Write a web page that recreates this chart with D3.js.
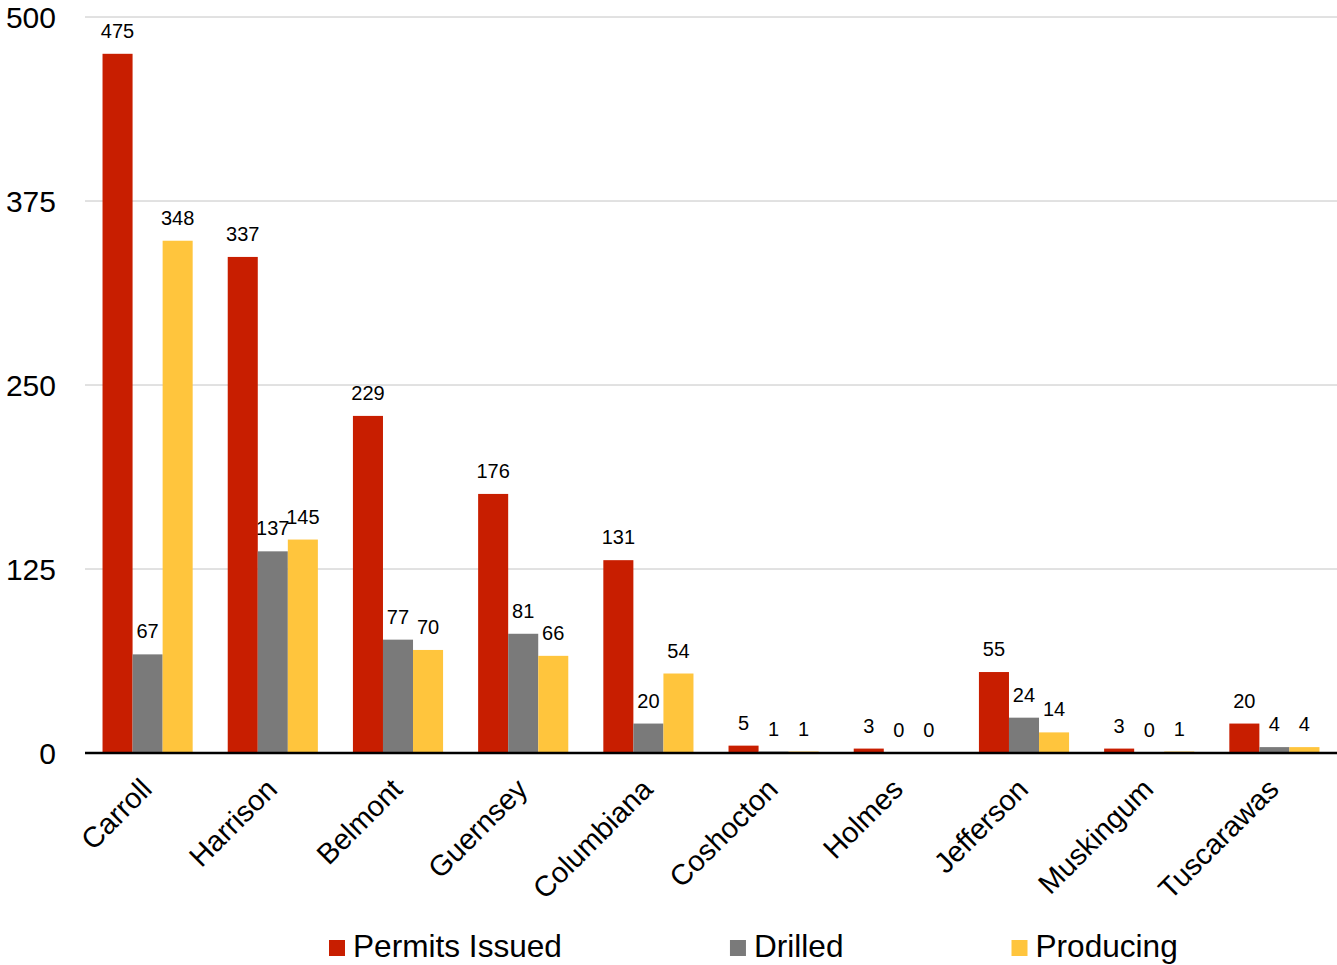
<!DOCTYPE html>
<html>
<head>
<meta charset="utf-8">
<script src="https://cdn.jsdelivr.net/npm/d3@7"></script>
<style>
  html, body { margin: 0; padding: 0; background: #fff; }
  svg { display: block; font-family: "Liberation Sans", Arial, sans-serif; }
</style>
</head>
<body>
<svg id="chart" width="1337" height="965"></svg>
<script>
const counties = ["Carroll", "Harrison", "Belmont", "Guernsey", "Columbiana", "Coshocton", "Holmes", "Jefferson", "Muskingum", "Tuscarawas"];
const seriesNames = ["Permits Issued", "Drilled", "Producing"];
const permitsIssued = [475, 337, 229, 176, 131, 5, 3, 55, 3, 20];
const drilled = [67, 137, 77, 81, 20, 1, 0, 24, 0, 4];
const producing = [348, 145, 70, 66, 54, 1, 0, 14, 1, 4];
const yTicks = [0, 125, 250, 375, 500];
const colors = ["#c81e00", "#7a7a7a", "#ffc53d"];

const seriesValues = [permitsIssued, drilled, producing];
const svg = d3.select("#chart");

const plotLeft = 85, plotRight = 1337, plotTop = 17, plotBottom = 753;

const y = d3.scaleLinear().domain([0, 500]).range([plotBottom, plotTop]);
const x0 = d3.scaleBand().domain(counties).range([plotLeft, plotRight]).paddingInner(0.28).paddingOuter(0.14);
const x1 = d3.scaleBand().domain(seriesNames).range([0, x0.bandwidth()]);

// gridlines
svg.append("g").selectAll("line").data(yTicks.filter(t => t > 0)).join("line")
  .attr("x1", plotLeft).attr("x2", plotRight)
  .attr("y1", d => y(d)).attr("y2", d => y(d))
  .attr("stroke", "#c4c4c4").attr("stroke-width", 1);

// y tick labels
svg.append("g").selectAll("text").data(yTicks).join("text")
  .attr("x", 56).attr("y", d => y(d))
  .attr("text-anchor", "end").attr("dominant-baseline", "central")
  .attr("font-size", 30).attr("fill", "#000")
  .text(d => d);

// bars
const groups = svg.append("g").selectAll("g").data(counties).join("g")
  .attr("transform", d => `translate(${x0(d)},0)`);

groups.selectAll("rect").data((c, i) => seriesNames.map((s, j) => ({ s, j, v: seriesValues[j][i] }))).join("rect")
  .attr("x", d => x1(d.s))
  .attr("width", x1.bandwidth())
  .attr("y", d => y(d.v))
  .attr("height", d => y(0) - y(d.v))
  .attr("fill", d => colors[d.j]);

groups.selectAll("text").data((c, i) => seriesNames.map((s, j) => ({ s, j, v: seriesValues[j][i] }))).join("text")
  .attr("x", d => x1(d.s) + x1.bandwidth() / 2)
  .attr("y", d => y(d.v) - 16)
  .attr("text-anchor", "middle")
  .attr("font-size", 20).attr("fill", "#000")
  .text(d => d.v);

// x axis line
svg.append("line")
  .attr("x1", plotLeft).attr("x2", plotRight)
  .attr("y1", plotBottom).attr("y2", plotBottom)
  .attr("stroke", "#000").attr("stroke-width", 2.5);

// x labels
svg.append("g").selectAll("text").data(counties).join("text")
  .attr("transform", d => `translate(${x0(d) + x0.bandwidth() / 2 + 6},${plotBottom + 38}) rotate(-45)`)
  .attr("text-anchor", "end")
  .attr("font-size", 29).attr("fill", "#000")
  .text(d => d);

// legend
const legend = svg.append("g");
let lx = 329;
seriesNames.forEach((name, j) => {
  legend.append("rect").attr("x", lx).attr("y", 940).attr("width", 16).attr("height", 16).attr("fill", colors[j]);
  const t = legend.append("text").attr("x", lx + 24).attr("y", 957)
    .attr("font-size", 31.6).attr("fill", "#000").text(name);
  const w = t.node().getComputedTextLength();
  lx = lx + 24 + w + 168;
});
</script>
</body>
</html>
